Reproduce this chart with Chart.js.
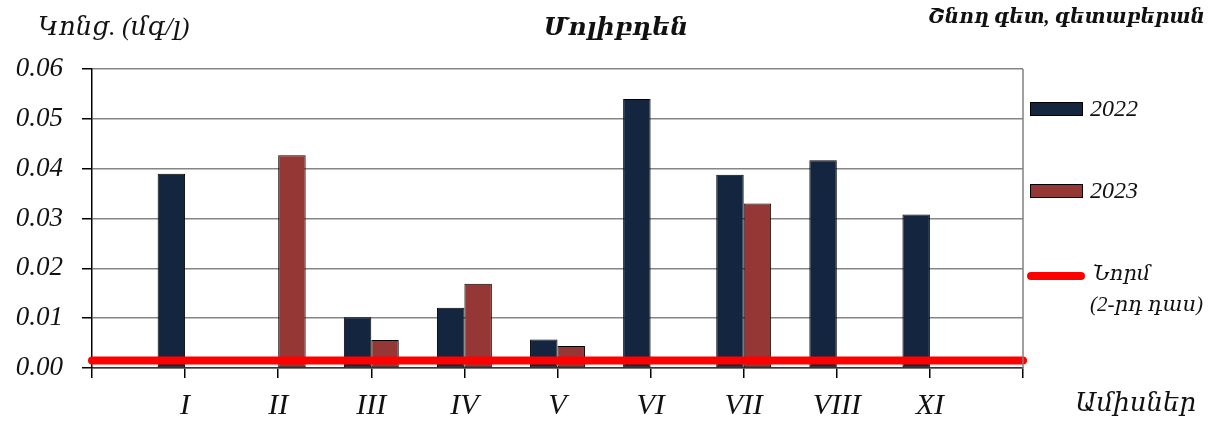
<!DOCTYPE html>
<html>
<head>
<meta charset="utf-8">
<script src="https://cdn.jsdelivr.net/npm/chart.js@4/dist/chart.umd.min.js"></script>
<style>
    body { margin: 0; background: #fff; }
</style>
</head>
<body>
<canvas id="canvas1" width="1212" height="424"></canvas>
<script>
"use strict";

// data
let months = ["", "I", "II", "III", "IV", "V", "VI", "VII", "VIII", "XI", ""];
let v2022 = [null, 0.039, null, 0.0102, 0.0121, 0.0057, 0.054, 0.0388, 0.0417, 0.0308, null];
let v2023 = [null, null, 0.0427, 0.0056, 0.0169, 0.0044, null, 0.033, null, null, null];
let norm = [0.0015, 0.0015, 0.0015, 0.0015, 0.0015, 0.0015, 0.0015, 0.0015, 0.0015, 0.0015, 0.0015];
let yMin = 0;
let yMax = 0.06;
let yStep = 0.01;

let chart1 = null;

let serif = "'Liberation Serif', 'DejaVu Serif', serif";

// texts, legend and right border drawn on the canvas
let textsPlugin = {
    id: "texts",
    afterDraw(chart) {
        let ctx = chart.ctx;
        let ca = chart.chartArea;
        ctx.save();

        // right border of plot
        ctx.strokeStyle = "#808080";
        ctx.lineWidth = 1.5;
        ctx.beginPath();
        ctx.moveTo(ca.right, ca.top);
        ctx.lineTo(ca.right, ca.bottom);
        ctx.stroke();

        ctx.fillStyle = "#111";
        ctx.textBaseline = "middle";

        // title
        ctx.textAlign = "center";
        ctx.font = "italic bold 25px " + serif;
        ctx.fillText("Մոլիբդեն", 616, 29);

        // unit
        ctx.textAlign = "left";
        ctx.font = "italic 26px " + serif;
        ctx.fillText("Կոնց. (մգ/լ)", 38, 28);

        // river
        ctx.textAlign = "right";
        ctx.font = "italic bold 20px " + serif;
        ctx.fillText("Շնող գետ, գետաբերան", 1205, 18);

        // x title
        ctx.font = "italic 26px " + serif;
        ctx.fillText("Ամիսներ", 1196, 404);

        // legend
        let ds = chart.data.datasets;
        let ly = [109, 191];
        ctx.textAlign = "left";
        ctx.font = "italic 24px " + serif;
        for (let i = 0; i < 2; i++) {
            ctx.fillStyle = ds[i].backgroundColor;
            ctx.fillRect(1030, ly[i] - 7, 53, 14);
            ctx.strokeStyle = "#000";
            ctx.lineWidth = 1;
            ctx.strokeRect(1030.5, ly[i] - 6.5, 52, 13);
            ctx.fillStyle = "#111";
            ctx.fillText(ds[i].label, 1090, ly[i] + 1);
        }

        ctx.strokeStyle = ds[2].borderColor;
        ctx.lineWidth = 8;
        ctx.lineCap = "round";
        ctx.beginPath();
        ctx.moveTo(1031, 276);
        ctx.lineTo(1081, 276);
        ctx.stroke();

        ctx.fillStyle = "#111";
        ctx.font = "italic 21px " + serif;
        ctx.fillText(ds[2].label[0], 1093, 274);
        ctx.fillText(ds[2].label[1], 1090, 305);

        ctx.restore();
    },
};

function DrawChart()
{
    if (chart1 != null)
    {
        chart1.destroy();
    }

    let canvas1 = document.querySelector("#canvas1");

    // opts
    let opts = {
        type: "bar",
        data: {
            labels: months,
            datasets: [
                {
                    label: "2022",
                    data: v2022,
                    backgroundColor: "#13253f",
                    borderColor: "#000",
                    borderWidth: 1,
                    borderSkipped: false,
                    order: 1,
                },
                {
                    label: "2023",
                    data: v2023,
                    backgroundColor: "#953735",
                    borderColor: "#000",
                    borderWidth: 1,
                    borderSkipped: false,
                    order: 1,
                },
                {
                    type: "line",
                    label: ["Նորմ", "(2-րդ դաս)"],
                    data: norm,
                    borderColor: "#ff0000",
                    borderWidth: 8,
                    borderCapStyle: "round",
                    pointRadius: 0,
                    clip: false,
                    order: 0,
                },
            ],
        },
        options: {
            responsive: false,
            animation: false,
            devicePixelRatio: 1,
            categoryPercentage: 0.59,
            barPercentage: 1,
            layout: { padding: { left: 0, top: 69, right: 189, bottom: 0 } },
            plugins: {
                legend: { display: false },
                tooltip: { enabled: false },
            },
            scales: {
                x: {
                    offset: false,
                    grid: {
                        offset: false,
                        drawOnChartArea: false,
                        tickLength: 10,
                        tickColor: "#000",
                        lineWidth: 1.5,
                    },
                    border: { color: "#333", width: 1.5 },
                    ticks: {
                        autoSkip: false,
                        maxRotation: 0,
                        padding: 10,
                        color: "#111",
                        font: { family: serif, size: 30, style: "italic" },
                    },
                    afterFit: (s) => { s.height = 56; },
                },
                y: {
                    min: yMin,
                    max: yMax,
                    grid: {
                        color: "#858585",
                        lineWidth: 1.5,
                        tickLength: 10,
                        tickColor: "#000",
                    },
                    border: { color: "#000", width: 1.5 },
                    ticks: {
                        stepSize: yStep,
                        padding: 19,
                        color: "#111",
                        font: { family: serif, size: 27, style: "italic" },
                        callback: (v) => v.toFixed(2),
                    },
                    afterFit: (s) => { s.width = 92; },
                },
            },
        },
        plugins: [textsPlugin],
    };

    chart1 = new Chart(canvas1, opts);
}

DrawChart();
</script>
</body>
</html>
